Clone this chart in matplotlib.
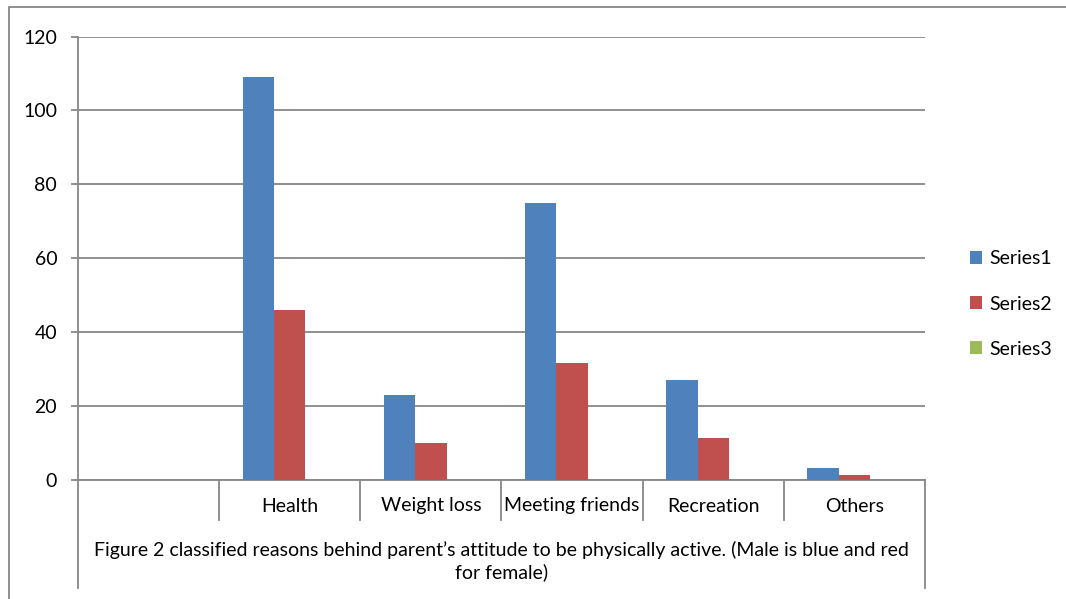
import matplotlib.pyplot as plt
import numpy as np
from matplotlib.lines import Line2D

# data
categories = ["", "Health", "Weight loss", "Meeting friends", "Recreation", "Others"]
series1 = [0, 109, 23, 75, 27, 3.2]
series2 = [0, 46, 9.9, 31.6, 11.4, 1.4]
series3 = [0, 0, 0, 0, 0, 0]
series_names = ["Series1", "Series2", "Series3"]
caption = ("Figure 2 classified reasons behind parent\u2019s attitude to be physically active. "
           "(Male is blue and red\nfor female)")
yticks = [0, 20, 40, 60, 80, 100, 120]

colors = ["#4F81BD", "#C0504D", "#9BBB59"]
grid_c = "#878787"
fs = 14

plt.rcParams["font.family"] = ["Lato", "DejaVu Sans"]

W, H = 1066, 599
fig = plt.figure(figsize=(W / 100, H / 100), dpi=100)

# plot area in pixels
left, right, top, bottom = 78, 925, 36.5, 480
ax = fig.add_axes([left / W, 1 - bottom / H, (right - left) / W, (bottom - top) / H])


def ypix(p):
    # pixel row -> axes fraction
    return (bottom - p) / (bottom - top)


x = np.arange(len(categories))
width = 0.2222
for i, vals in enumerate([series1, series2, series3]):
    ax.bar(x + (i - 1) * width, vals, width, color=colors[i], linewidth=0,
           label=series_names[i], zorder=3)

ax.set_xlim(-0.5, len(categories) - 0.5)
ax.set_ylim(0, 120)
ax.set_yticks(yticks)
ax.set_xticks([])
ax.yaxis.grid(True, color=grid_c, linewidth=1.3, zorder=0)
ax.tick_params(axis="y", length=5, width=1.3, color=grid_c, labelsize=fs, pad=10)
for s in ["top", "right"]:
    ax.spines[s].set_visible(False)
for s in ["left", "bottom"]:
    ax.spines[s].set_color(grid_c)
    ax.spines[s].set_linewidth(1.3)

# multi-level category axis
tr = ax.get_xaxis_transform()
for b in np.arange(0.5, len(categories) - 1, 1.0):
    ax.add_line(Line2D([b, b], [0, ypix(520)], transform=tr, color=grid_c,
                       linewidth=1.3, clip_on=False))
for b in [-0.5, len(categories) - 0.5]:
    ax.add_line(Line2D([b, b], [0, ypix(588)], transform=tr, color=grid_c,
                       linewidth=1.3, clip_on=False))
for i, c in enumerate(categories):
    ax.text(i, ypix(506), c, transform=tr, ha="center", va="center", fontsize=fs)
ax.text((len(categories) - 1) / 2, ypix(561), caption, transform=tr, ha="center",
        va="center", fontsize=fs, linespacing=1.3)

# legend
fig.legend(loc="center left", bbox_to_anchor=(952 / W, 1 - 304 / H), frameon=False,
           handlelength=0.65, handleheight=0.65, handletextpad=0.35, labelspacing=1.45,
           fontsize=fs)

# chart area border
fig.add_artist(Line2D([8.5 / W, 8.5 / W, 1.0], [0, 1 - 7 / H, 1 - 7 / H],
                      transform=fig.transFigure, color=grid_c, linewidth=1.3))

fig.savefig("out.png", dpi=100)
